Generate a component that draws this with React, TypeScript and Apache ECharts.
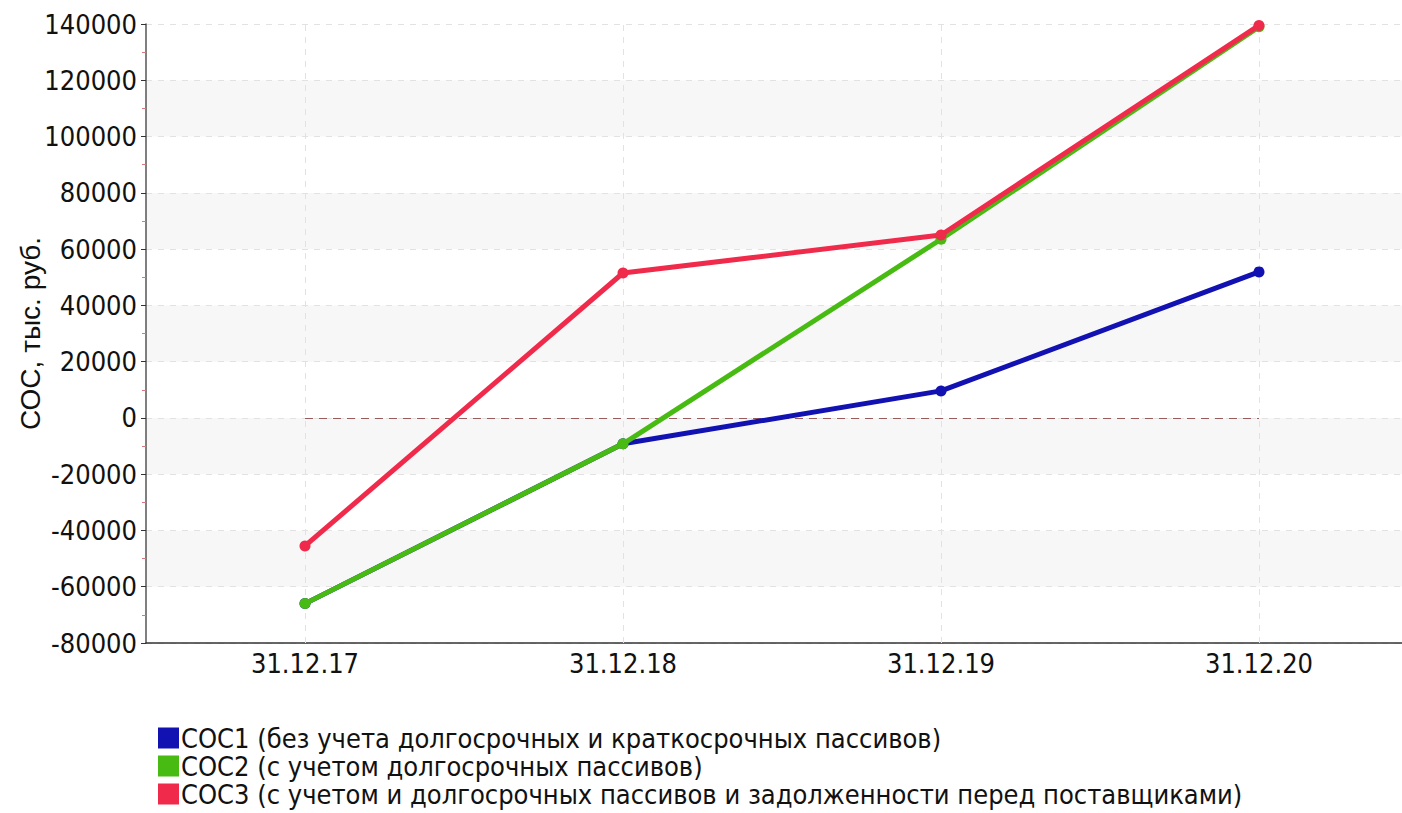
import React, { useEffect, useRef } from "react";
import * as echarts from "echarts";

const categories = ["31.12.17", "31.12.18", "31.12.19", "31.12.20"];
const sos1 = [-66000, -9200, 9600, 51900];
const sos2 = [-66000, -9200, 63500, 139000];
const sos3 = [-45500, 51500, 65000, 139500];
const seriesNames = [
  "СОС1 (без учета долгосрочных и краткосрочных пассивов)",
  "СОС2 (с учетом долгосрочных пассивов)",
  "СОС3 (с учетом и долгосрочных пассивов и задолженности перед поставщиками)",
];
const colors = ["#1212b2", "#48bb12", "#f02a4a"];
const yAxisTitle = "СОС, тыс. руб.";

const tickFont = "'DejaVu Sans Condensed', 'Liberation Sans', sans-serif";

export default function App() {
  const ref = useRef<HTMLDivElement>(null);
  useEffect(() => {
    if (!ref.current) return;
    const chart = echarts.init(ref.current, null, { renderer: "svg" });
    const mkSeries = (i: number, data: number[]) => ({
      name: seriesNames[i],
      type: "line",
      data,
      symbol: "circle",
      symbolSize: 11,
      lineStyle: { width: 5, color: colors[i] },
      itemStyle: { color: colors[i] },
      z: 3 + i,
    });
    chart.setOption({
      animation: false,
      backgroundColor: "#ffffff",
      grid: {
        left: 146,
        right: -16,
        top: 24,
        bottom: 170,
        containLabel: false,
        outerBoundsMode: "none",
      },
      legend: {
        orient: "vertical",
        left: 158,
        top: 724,
        height: 89,
        itemWidth: 21,
        itemHeight: 21,
        itemGap: 0,
        padding: 0,
        icon: "rect",
        data: seriesNames,
        textStyle: {
          fontFamily: tickFont,
          fontSize: 27,
          lineHeight: 28,
          color: "#111",
          padding: [0, 0, 0, -3],
        },
      },
      xAxis: {
        type: "category",
        data: categories,
        boundaryGap: true,
        axisLine: { onZero: false, lineStyle: { color: "#333", width: 1.5 } },
        axisTick: {
          show: true,
          alignWithLabel: true,
          inside: true,
          length: 5,
          lineStyle: { color: "#333" },
        },
        axisLabel: { fontFamily: tickFont, fontSize: 27, color: "#111", margin: 7 },
        splitLine: { show: false },
      },
      yAxis: {
        type: "value",
        min: -80000,
        max: 140000,
        interval: 20000,
        name: yAxisTitle,
        nameLocation: "middle",
        nameGap: 102,
        nameMoveOverlap: false,
        nameTextStyle: {
          fontFamily: "'Liberation Sans', Arial, sans-serif",
          fontSize: 28,
          color: "#111",
        },
        axisLine: { show: true, lineStyle: { color: "#555", width: 1.5 } },
        axisTick: { show: true, length: 5, lineStyle: { color: "#333" } },
        minorTick: {
          show: true,
          splitNumber: 2,
          length: 4,
          lineStyle: { color: "#d07a7a" },
        },
        axisLabel: {
          fontFamily: tickFont,
          fontSize: 27,
          color: "#111",
          margin: 9,
          formatter: (v: number) => String(v),
        },
        splitLine: {
          show: true,
          lineStyle: { color: "#e2e2e2", type: [6, 6], width: 1 },
        },
        splitArea: { show: true, areaStyle: { color: ["#ffffff", "#f7f7f7"] } },
      },
      series: [
        {
          type: "line",
          data: [],
          silent: true,
          z: 1,
          markLine: {
            silent: true,
            symbol: "none",
            z: 1,
            label: { show: false },
            data: [
              ...categories.map((c) => ({
                xAxis: c,
                lineStyle: { color: "#e2e2e2", type: [6, 6], width: 1 },
              })),
              [
                {
                  coord: [categories[0], 0],
                  lineStyle: { color: "#985c5c", type: [8, 6], width: 1.2 },
                },
                { coord: [categories[categories.length - 1], 0] },
              ],
            ],
          },
        },
        mkSeries(0, sos1),
        mkSeries(1, sos2),
        mkSeries(2, sos3),
      ],
    });
    return () => chart.dispose();
  }, []);
  return (
    <div
      ref={ref}
      style={{ position: "absolute", left: 0, top: 0, width: 1402, height: 813 }}
    />
  );
}
